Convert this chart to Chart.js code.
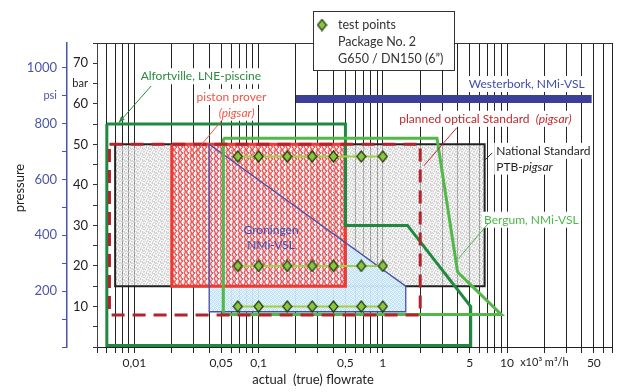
<!DOCTYPE html>
<html>
<head>
<meta charset="utf-8">
<script src="https://cdn.jsdelivr.net/npm/chart.js@4.4.1/dist/chart.umd.min.js"></script>
<style>
  html, body { margin: 0; padding: 0; background: #fff; }
  #wrap { width: 619px; height: 392px; }
</style>
</head>
<body>
<div id="wrap"><canvas id="flowChart"></canvas></div>
<script>
// flow in 10^3 m3/h, pressure in bar
const xTickValues = [0.01, 0.05, 0.1, 0.5, 1, 5, 10, 20, 50];
const xTickText = ['0,01', '0,05', '0,1', '0,5', '1', '5', '10', 'x10³ m³/h', '50'];
const barLabels = [10, 20, 30, 40, 50, 60, 70];
const psiLabels = [200, 400, 600, 800, 1000];
const PSI_PER_BAR = 14.5038;

// National Standard PTB-pigsar
const nationalX = [0.007, 6.6, 6.6, 0.007, 0.007];
const nationalY = [50, 50, 15, 15, 50];
// piston prover (pigsar)
const pistonX = [0.02, 0.5, 0.5, 0.02, 0.02];
const pistonY = [50, 50, 15, 15, 50];
// Groningen NMi-VSL
const groningenX = [0.04, 1.53, 1.53, 0.04, 0.04];
const groningenY = [50, 15, 8.7, 8.7, 50];
// Alfortville, LNE-piscine
const alfortX = [0.006, 0.5, 0.5, 1.58, 5.1, 5.1, 0.006, 0.006];
const alfortY = [55, 55, 30, 30, 10, 0.35, 0.35, 55];
// Bergum, NMi-VSL
const bergumX = [0.052, 2.73, 4.0, 9.0, 0.052, 0.052];
const bergumY = [51.5, 51.5, 18.5, 8, 8, 51.5];
// planned optical Standard (pigsar)
const opticalX = [0.0063, 2.0, 2.0, 0.0063, 0.0063];
const opticalY = [50, 50, 7.9, 7.9, 50];
// Westerbork, NMi-VSL
const westerborkX = [0.2, 48];
const westerborkY = [61.2, 61.2];
// test points, Package No. 2
const testFlows = [0.068, 0.1, 0.17, 0.27, 0.4, 0.67, 1.0];
const testPressures = [47, 20, 10];

const pts = (xs, ys) => xs.map((x, i) => ({ x: x, y: ys[i] }));

// vertical grid at 1..9 x 10^n
const gridFlows = [];
[0.001, 0.01, 0.1, 1, 10].forEach(d => {
  for (let m = 1; m <= 9; m++) {
    const v = +(m * d).toPrecision(6);
    if (v >= 0.005 && v <= 70) gridFlows.push(v);
  }
});

function makePattern(rows, colors) {
  const c = document.createElement('canvas');
  c.width = rows[0].length;
  c.height = rows.length;
  const g = c.getContext('2d');
  rows.forEach((row, y) => {
    [...row].forEach((ch, x) => {
      if (colors[ch]) { g.fillStyle = colors[ch]; g.fillRect(x, y, 1, 1); }
    });
  });
  return g.createPattern(c, 'repeat');
}

const grayStipple = makePattern(
  ['abacba', 'cabbac', 'bacaab', 'abcbca', 'cabacb', 'bcaabc'],
  { a: 'rgba(250,250,250,0.7)', b: 'rgba(218,218,218,0.7)', c: 'rgba(185,185,185,0.7)' }
);
const redHatch = makePattern(
  ['rpw.pr', 'prwwrp', 'wrrprw', '.pr.rp', 'prwwpr', 'rp.wpr'],
  { r: 'rgba(236,70,70,0.85)', p: 'rgba(244,150,150,0.75)', w: 'rgba(255,240,240,0.55)' }
);
const blueStipple = makePattern(
  ['abab', 'baba', 'aabb', 'bbaa'],
  { a: 'rgba(188,224,244,0.95)', b: 'rgba(228,243,252,0.95)' }
);

function makeDiamond(w, h) {
  const c = document.createElement('canvas');
  c.width = w + 2; c.height = h + 2;
  const g = c.getContext('2d');
  g.beginPath();
  g.moveTo(c.width / 2, 1);
  g.lineTo(c.width - 1, c.height / 2);
  g.lineTo(c.width / 2, c.height - 1);
  g.lineTo(1, c.height / 2);
  g.closePath();
  g.fillStyle = '#8cc63f';
  g.fill();
  g.lineWidth = 1.2;
  g.strokeStyle = '#1e3a0e';
  g.stroke();
  return c;
}
const diamond = makeDiamond(9, 11);

const FONT = 'Lato, "Open Sans", sans-serif';

// labels placed in data coordinates
const notes = [
  { parts: [['Alfortville, LNE-piscine']], x: 0.0343, y: 66.8, color: '#2a8a3e', align: 'center', bg: true },
  { parts: [['piston prover']], x: 0.0605, y: 61.7, color: '#f05545', align: 'center', bg: true },
  { parts: [['(pigsar)', true]], x: 0.0665, y: 57.8, color: '#f05545', align: 'center', bg: true },
  { parts: [['Westerbork, NMi-VSL']], x: 14.4, y: 64.9, color: '#3f4ea8', align: 'center', bg: true },
  { parts: [['planned optical Standard  '], ['(pigsar)', true]], x: 1.357, y: 56.3, color: '#c0272d', align: 'left', bg: true },
  { parts: [['National Standard']], x: 8.18, y: 48.4, color: '#222', align: 'left', bg: true },
  { parts: [['PTB-'], ['pigsar', true]], x: 8.18, y: 44.5, color: '#222', align: 'left', bg: true },
  { parts: [['Bergum, NMi-VSL']], x: 6.53, y: 31.4, color: '#4cb848', align: 'left', bg: true },
  { parts: [['Groningen']], x: 0.126, y: 28.9, color: '#4450b0', align: 'center', bg: false },
  { parts: [['NMi-VSL']], x: 0.126, y: 25.2, color: '#4450b0', align: 'center', bg: false }
];
const leaders = [
  { from: [0.01365, 64.4], to: [0.00746, 55.3], color: '#2a8a3e', end: 'arrow' },
  { from: [0.0515, 56.2], to: [0.0292, 47.2], color: '#f05545', end: 'square' },
  { from: [3.94, 54.1], to: [2.14, 44.7], color: '#c0272d' },
  { from: [7.6, 47.9], to: [6.69, 46.2], color: '#222' },
  { from: [7.03, 30.4], to: [4.06, 21.8], color: '#4cb848' }
];

const annotate = {
  id: 'annotate',
  afterDatasetsDraw(chart) {
    const { ctx, scales: { x, y }, chartArea } = chart;
    ctx.save();
    // top frame
    ctx.strokeStyle = '#333';
    ctx.lineWidth = 1;
    ctx.beginPath();
    ctx.moveTo(chartArea.left, chartArea.top + 0.5);
    ctx.lineTo(chartArea.right, chartArea.top + 0.5);
    ctx.stroke();

    ctx.textBaseline = 'middle';
    notes.forEach(n => {
      const fontOf = it => (it ? 'italic ' : '') + '12px ' + FONT;
      let w = 0;
      n.parts.forEach(p => { ctx.font = fontOf(p[1]); w += ctx.measureText(p[0]).width; });
      const px = x.getPixelForValue(n.x), py = y.getPixelForValue(n.y);
      let left = n.align === 'center' ? px - w / 2 : px;
      if (n.bg) {
        ctx.fillStyle = '#fff';
        ctx.fillRect(left - 2, py - 8, w + 4, 16);
      }
      ctx.fillStyle = n.color;
      ctx.textAlign = 'left';
      n.parts.forEach(p => {
        ctx.font = fontOf(p[1]);
        ctx.fillText(p[0], left, py);
        left += ctx.measureText(p[0]).width;
      });
    });

    leaders.forEach(l => {
      const x1 = x.getPixelForValue(l.from[0]), y1 = y.getPixelForValue(l.from[1]);
      const x2 = x.getPixelForValue(l.to[0]), y2 = y.getPixelForValue(l.to[1]);
      ctx.strokeStyle = l.color;
      ctx.fillStyle = l.color;
      ctx.lineWidth = 1;
      ctx.beginPath();
      ctx.moveTo(x1, y1);
      ctx.lineTo(x2, y2);
      ctx.stroke();
      if (l.end === 'arrow') {
        const a = Math.atan2(y2 - y1, x2 - x1);
        ctx.beginPath();
        ctx.moveTo(x2, y2);
        ctx.lineTo(x2 - 7 * Math.cos(a - 0.35), y2 - 7 * Math.sin(a - 0.35));
        ctx.lineTo(x2 - 7 * Math.cos(a + 0.35), y2 - 7 * Math.sin(a + 0.35));
        ctx.closePath();
        ctx.fill();
      } else if (l.end === 'square') {
        ctx.fillRect(x2 - 1.5, y2 - 1.5, 3, 3);
      }
    });

    // key box
    ctx.fillStyle = '#fff';
    ctx.fillRect(313.5, 11.5, 141, 59);
    ctx.strokeStyle = '#333';
    ctx.strokeRect(313.5, 11.5, 141, 59);
    ctx.drawImage(diamond, 322 - diamond.width / 2, 25 - diamond.height / 2);
    ctx.fillStyle = '#333';
    ctx.font = '12.5px ' + FONT;
    ctx.textAlign = 'left';
    ctx.fillText('test points', 338, 25);
    ctx.fillText('Package No. 2', 338, 42);
    ctx.fillText('G650 / DN150 (6\u201D)', 338, 59);

    // axis titles
    ctx.fillStyle = '#222';
    ctx.font = '13px ' + FONT;
    ctx.textAlign = 'center';
    ctx.fillText('actual  (true) flowrate', 313, 380);
    ctx.translate(20, 188);
    ctx.rotate(-Math.PI / 2);
    ctx.fillText('pressure', 0, 0);
    ctx.restore();
  }
};

const shape = (xs, ys, extra) => Object.assign({
  data: pts(xs, ys),
  pointRadius: 0,
  tension: 0,
  fill: false,
  borderJoinStyle: 'miter'
}, extra);

const datasets = [
  shape(nationalX, nationalY, { order: 10, fill: 'shape', backgroundColor: grayStipple, borderColor: '#222', borderWidth: 2 }),
  shape(groningenX, groningenY, { order: 9, fill: 'shape', backgroundColor: blueStipple, borderWidth: 0, borderColor: 'rgba(0,0,0,0)' }),
  shape(pistonX, pistonY, { order: 8, fill: 'shape', backgroundColor: redHatch, borderColor: '#ee3a32', borderWidth: 3 }),
  shape(groningenX, groningenY, { order: 7, borderColor: '#4a50a8', borderWidth: 1.3 }),
  shape(alfortX, alfortY, { order: 6, borderColor: '#1f8a3f', borderWidth: 3 }),
  shape(bergumX, bergumY, { order: 5, borderColor: '#52b848', borderWidth: 3 }),
  shape(opticalX, opticalY, { order: 4, borderColor: '#b3232c', borderWidth: 3, borderDash: [13, 8] }),
  shape(westerborkX, westerborkY, { order: 3, borderColor: '#3b3f98', borderWidth: 8, borderCapStyle: 'butt' })
];
testPressures.forEach((p, i) => {
  datasets.push({
    data: testFlows.map(f => ({ x: f, y: p })),
    order: 0,
    borderColor: '#a3d042',
    borderWidth: 2,
    pointRadius: 5,
    pointStyle: diamond,
    tension: 0,
    fill: false
  });
});

const labelFor = v => {
  const k = xTickValues.findIndex(t => Math.abs(v / t - 1) < 1e-6);
  return k >= 0 ? xTickText[k] : '';
};

new Chart(document.getElementById('flowChart'), {
  type: 'line',
  data: { datasets: datasets },
  options: {
    responsive: true,
    maintainAspectRatio: false,
    animation: false,
    layout: { padding: { top: 43, right: 2, left: 0, bottom: 0 } },
    plugins: { legend: { display: false }, tooltip: { enabled: false } },
    scales: {
      x: {
        type: 'logarithmic',
        min: 0.005,
        max: 70,
        afterBuildTicks: s => { s.ticks = gridFlows.map(v => ({ value: v })); },
        afterFit: s => { s.height = 45; },
        ticks: {
          autoSkip: false, maxRotation: 0, minRotation: 0, padding: 3,
          color: '#222',
          font: c => ({ family: FONT, size: (c.tick && Math.abs(c.tick.value - 20) < 1e-6) ? 11 : 12 }),
          callback: v => labelFor(v)
        },
        grid: { color: '#222', lineWidth: 1, tickLength: 6 },
        border: { color: '#222' }
      },
      y: {
        type: 'linear', position: 'left', min: 0, max: 75, weight: 0,
        afterFit: s => { s.width = 30; },
        ticks: {
          stepSize: 5, autoSkip: false, padding: 5, color: '#222',
          font: c => ({ family: FONT, size: (c.tick && c.tick.value === 65) ? 11 : 13 }),
          callback: v => v === 65 ? 'bar' : (barLabels.includes(v) ? String(v) : '')
        },
        grid: { drawOnChartArea: false, tickLength: 4, color: '#333' },
        border: { color: '#444' }
      },
      psi: {
        type: 'linear', position: 'left', min: 0, max: 75 * PSI_PER_BAR, weight: 1,
        afterFit: s => { s.width = 67; },
        ticks: {
          stepSize: 100, includeBounds: false, autoSkip: false, padding: 5, color: '#4a55a8',
          font: c => ({ family: FONT, size: (c.tick && c.tick.value === 900) ? 11 : 13 }),
          callback: v => v === 900 ? 'psi' : (psiLabels.includes(v) ? String(v) : '')
        },
        grid: { drawOnChartArea: false, tickLength: 5, color: '#4a55a8' },
        border: { color: '#4a55a8', width: 1.5 }
      }
    }
  },
  plugins: [annotate]
});
</script>
</body>
</html>
